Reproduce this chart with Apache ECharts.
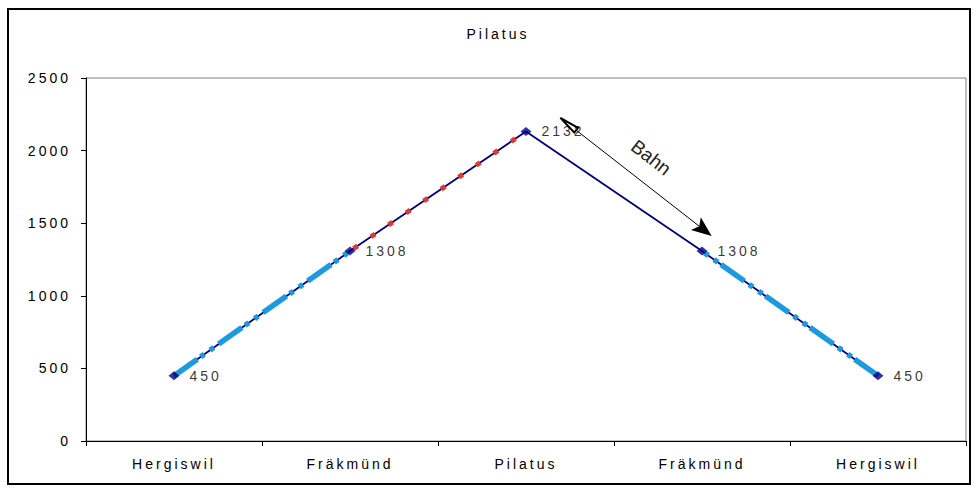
<!DOCTYPE html>
<html>
<head>
<meta charset="utf-8">
<script src="https://cdn.jsdelivr.net/npm/echarts@6/dist/echarts.min.js"></script>
<style>
  html, body { margin: 0; padding: 0; background: #fff; }
  #chart { width: 977px; height: 492px; }
  #chart svg text { letter-spacing: 3px; }
</style>
</head>
<body>
<div id="chart"></div>
<script>
// ---- data ----
const categories = ['Hergiswil', 'Fräkmünd', 'Pilatus', 'Fräkmünd', 'Hergiswil'];
const heights = [450, 1308, 2132, 1308, 450];
const yTicks = { min: 0, max: 2500, interval: 500 };
// overlay legs: [category index, height]
const gondolaUp = [[0, 450], [1, 1308]];
const railUp = [[1, 1308], [2, 2132]];
const gondolaDown = [[4, 450], [3, 1308]];
// annotation arrow "Bahn" (start, end) in data units
const bahnArrow = [[2.24, 2183], [3.01, 1455]];
const bahnLabel = 'Bahn';
const titleText = 'Pilatus';

const chart = echarts.init(document.getElementById('chart'), null, { renderer: 'svg' });
const font = "'Liberation Sans', Arial, sans-serif";

const option = {
  animation: false,
  backgroundColor: '#fff',
  textStyle: { fontFamily: font },
  title: {
    text: titleText,
    left: 493,
    top: 22,
    textAlign: 'center',
    textStyle: { fontSize: 14, fontWeight: 'normal', color: '#000', fontFamily: font }
  },
  graphic: [{
    type: 'rect',
    shape: { x: 8, y: 9, width: 962, height: 475 },
    style: { fill: 'none', stroke: '#000', lineWidth: 2 },
    silent: true
  }],
  grid: {
    left: 86, right: 11, top: 78, bottom: 51,
    show: true, borderColor: '#808080', borderWidth: 1, backgroundColor: 'transparent'
  },
  xAxis: [{
    type: 'category',
    data: categories,
    boundaryGap: true,
    axisLine: { onZero: false, lineStyle: { color: '#000', width: 1 } },
    axisTick: { show: true, length: 5, inside: false, alignWithLabel: false, interval: 0, lineStyle: { color: '#000' } },
    axisLabel: { interval: 0, fontSize: 14, color: '#000', margin: 16, fontFamily: font },
    splitLine: { show: false }
  }, {
    type: 'value',
    min: -0.5, max: 4.5,
    show: false
  }],
  yAxis: [{
    type: 'value',
    min: yTicks.min, max: yTicks.max, interval: yTicks.interval,
    axisLine: { show: true, onZero: false, lineStyle: { color: '#000', width: 1 } },
    axisTick: { show: true, length: 5, lineStyle: { color: '#000' } },
    axisLabel: { fontSize: 14, color: '#000', margin: 15, fontFamily: font, formatter: function (v) { return String(v); } },
    splitLine: { show: false }
  }],
  series: [
    {
      type: 'line', name: 'profile', xAxisIndex: 0,
      data: heights, symbol: 'none', silent: true,
      lineStyle: { color: '#000080', width: 1.8 },
      z: 2
    },
    {
      type: 'line', name: 'up1', xAxisIndex: 1,
      data: gondolaUp, symbol: 'none', silent: true,
      lineStyle: { color: '#1b9ae0', width: 5.5, type: [28.6, 4, 4.5, 7, 4.5, 6], cap: 'butt' },
      z: 3
    },
    {
      type: 'line', name: 'down1', xAxisIndex: 1,
      data: gondolaDown, symbol: 'none', silent: true,
      lineStyle: { color: '#1b9ae0', width: 5.5, type: [28.6, 4, 4.5, 7, 4.5, 6], cap: 'butt' },
      z: 3
    },
    {
      type: 'line', name: 'rail', xAxisIndex: 1,
      data: railUp, symbol: 'none', silent: true,
      lineStyle: { color: '#e03a30', width: 5, type: [5, 16.2], dashOffset: 16.7, cap: 'butt' },
      z: 3,
      markLine: {
        silent: true,
        animation: false,
        symbol: ['emptyTriangle', 'path://M5,0 L10,14 L5,11 L0,14 Z'],
        symbolSize: [6, 20],
        lineStyle: { color: '#000', width: 1, type: 'solid' },
        label: {
          show: true, formatter: bahnLabel, position: 'insideMiddleTop',
          distance: 15, fontSize: 19, color: '#222', fontFamily: font
        },
        emphasis: { disabled: true },
        data: [[
          { coord: bahnArrow[0] },
          { coord: bahnArrow[1], symbolSize: [16, 20] }
        ]]
      }
    },
    {
      type: 'scatter', name: 'stations', xAxisIndex: 0,
      data: heights, symbol: 'diamond', symbolSize: [11, 9], silent: true,
      itemStyle: { color: '#000080' },
      label: { show: true, position: 'right', distance: 10, fontSize: 14, color: '#000', fontFamily: font },
      z: 5
    }
  ]
};
chart.setOption(option);

function fixBahn() {
  document.querySelectorAll('#chart svg text').forEach(function (t) {
    if (t.textContent === bahnLabel) t.style.letterSpacing = '0px';
  });
}
fixBahn();
setTimeout(fixBahn, 50);
chart.on('finished', fixBahn);
</script>
</body>
</html>
